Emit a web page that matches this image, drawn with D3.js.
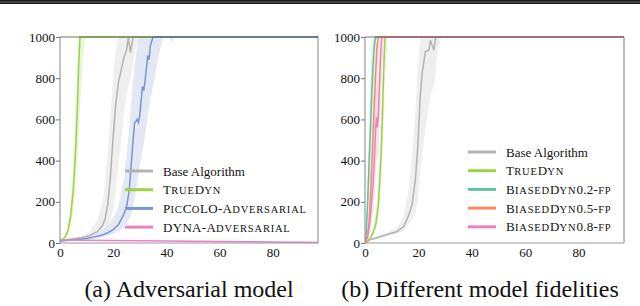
<!DOCTYPE html>
<html><head><meta charset="utf-8">
<script src="https://cdn.jsdelivr.net/npm/d3@7"></script>
<style>body{margin:0;background:#fff}svg{display:block}</style>
</head><body>
<svg id="c" width="640" height="306"></svg>
<script>
// ---------- data ----------
const xTicks = [0, 20, 40, 60, 80];
const yTicks = [0, 200, 400, 600, 800, 1000];

// Panel (a)
const baseA_x  = [0, 4, 8, 11, 14, 16, 17, 18, 19, 20, 21, 22, 23, 24, 25, 25.7, 26.5, 27.5, 28.5, 30, 97];
const baseA_y  = [10, 18, 25, 35, 55, 85, 120, 190, 330, 520, 680, 780, 840, 900, 935, 1000, 925, 1000, 1000, 1000, 1000];
const baseA_hi = [12, 22, 35, 55, 110, 200, 300, 450, 620, 800, 950, 1000, 1000, 1000, 1000, 1000, 1000, 1000, 1000, 1000, 1000];
const baseA_lo = [8, 15, 20, 25, 35, 50, 65, 80, 110, 160, 250, 380, 500, 620, 720, 760, 800, 880, 950, 1000, 1000];

const trueA_x  = [0, 1, 2, 3, 4, 5, 6, 6.5, 7, 7.5, 8, 8.5, 9, 9.5, 97];
const trueA_y  = [10, 18, 30, 60, 130, 260, 480, 650, 850, 1000, 1000, 1000, 1000, 1000, 1000];
const trueA_hi = [12, 22, 40, 85, 190, 380, 680, 880, 1000, 1000, 1000, 1000, 1000, 1000, 1000];
const trueA_lo = [9, 15, 22, 40, 80, 150, 280, 400, 520, 650, 760, 860, 950, 1000, 1000];

const picA_x  = [0, 5, 10, 15, 18, 20, 22, 24, 25, 26, 27, 28, 29, 29.5, 30, 31, 31.5, 32, 33, 33.5, 34, 35, 36, 37, 38, 39, 41, 42, 43, 97];
const picA_y  = [10, 15, 22, 35, 50, 65, 90, 140, 175, 250, 420, 580, 600, 585, 620, 760, 740, 790, 910, 890, 960, 1000, 1000, 1000, 1000, 1000, 1000, 1000, 1000, 1000];
const picA_hi = [12, 20, 30, 55, 85, 120, 180, 310, 420, 560, 720, 860, 950, 1000, 1000, 1000, 1000, 1000, 1000, 1000, 1000, 1000, 1000, 1000, 1000, 1000, 1000, 1000, 1000, 1000];
const picA_lo = [8, 12, 17, 26, 35, 44, 56, 75, 95, 115, 150, 210, 290, 330, 370, 450, 480, 520, 620, 650, 700, 760, 830, 900, 960, 1000, 1000, 975, 1000, 1000];

const dynaA_x = [0, 10, 20, 30, 40, 50, 60, 70, 80, 90, 97];
const dynaA_y = [14, 13, 12, 11, 10, 8, 7, 6, 5, 4, 3];

// Panel (b)
const baseB_x  = [0, 2, 8, 12, 14.5, 16.4, 17.6, 18.9, 19.8, 20.6, 21.4, 22.6, 23.9, 24.5, 25.8, 26.4, 27, 28.5, 97];
const baseB_y  = [0, 16, 40, 56, 80, 136, 184, 312, 472, 696, 824, 928, 936, 984, 936, 992, 1000, 1000, 1000];
const baseB_hi = [2, 20, 50, 75, 130, 260, 420, 650, 850, 1000, 1000, 1000, 1000, 1000, 1000, 1000, 1000, 1000, 1000];
const baseB_lo = [0, 12, 32, 45, 60, 90, 115, 150, 220, 330, 430, 560, 660, 720, 760, 820, 900, 1000, 1000];

const trueB_x  = [0, 1, 2, 3, 4, 5, 5.5, 6, 6.5, 7, 7.5, 8.5, 97];
const trueB_y  = [0, 10, 24, 50, 88, 184, 300, 420, 600, 840, 1000, 1000, 1000];
const trueB_hi = [0, 14, 35, 75, 140, 300, 460, 620, 820, 1000, 1000, 1000, 1000];
const trueB_lo = [0, 7, 16, 34, 60, 120, 190, 280, 420, 620, 800, 1000, 1000];

const b02_x  = [0, 0.5, 1, 1.5, 2, 2.5, 3, 3.5, 4, 4.5, 97];
const b02_y  = [0, 60, 200, 380, 540, 720, 860, 960, 1000, 1000, 1000];
const b02_hi = [0, 110, 320, 560, 760, 920, 1000, 1000, 1000, 1000, 1000];
const b02_lo = [0, 30, 110, 230, 360, 520, 680, 820, 940, 1000, 1000];

const b05_x  = [0, 1, 1.5, 2, 2.5, 3, 3.5, 4, 4.5, 5, 5.5, 97];
const b05_y  = [0, 40, 100, 220, 360, 520, 680, 830, 950, 1000, 1000, 1000];
const b05_hi = [0, 70, 170, 340, 520, 700, 860, 980, 1000, 1000, 1000, 1000];
const b05_lo = [0, 20, 55, 120, 220, 350, 500, 650, 800, 920, 1000, 1000];

const b08_x  = [0, 1, 2, 3, 3.5, 4, 4.3, 4.6, 5, 5.5, 6, 6.3, 7, 97];
const b08_y  = [0, 30, 120, 280, 400, 560, 610, 560, 620, 800, 950, 1000, 1000, 1000];
const b08_hi = [0, 50, 200, 420, 560, 720, 780, 760, 820, 950, 1000, 1000, 1000, 1000];
const b08_lo = [0, 15, 60, 160, 240, 360, 420, 400, 440, 560, 720, 820, 1000, 1000];

const labelsA = ["Base Algorithm", "TrueDyn", "PicCoLO-Adversarial", "DYNA-Adversarial"];
const labelsB = ["Base Algorithm", "TrueDyn", "BiasedDyn0.2-fp", "BiasedDyn0.5-fp", "BiasedDyn0.8-fp"];
const captions = ["(a) Adversarial model", "(b) Different model fidelities"];

// ---------- styling ----------
const FONT = '"Liberation Serif"';
const C = {gray: "#b3b3b3", green: "#9bd447", blue: "#7b95d0", pink: "#e882c4", teal: "#5fc2a3", orange: "#fc8a5e"};
const BAND = {gray: "#ececec", green: "#e4f3cf", blue: "#dde4f2", pink: "#f8dcee", teal: "#d2ede4", orange: "#fee0d3"};

const svg = d3.select("#c");
svg.append("rect").attr("x", 0).attr("y", 0).attr("width", 640).attr("height", 4).attr("fill", "#1a1a1a");
svg.append("rect").attr("x", 0).attr("y", 1.5).attr("width", 640).attr("height", 1).attr("fill", "#666");

function series(x, y, lo, hi) {
  return {pts: x.map((v, i) => ({x: v, y: y[i], lo: lo ? lo[i] : null, hi: hi ? hi[i] : null}))};
}

// small caps: split into runs of lowercase (rendered as smaller capitals) and others
function smallCaps(textSel, str) {
  const runs = [];
  for (const ch of str) {
    const low = ch !== ch.toUpperCase();
    if (runs.length && runs[runs.length - 1].low === low) runs[runs.length - 1].s += ch;
    else runs.push({low, s: ch});
  }
  runs.forEach(r => {
    textSel.append("tspan")
      .style("font-size", r.low ? "10.5px" : "13px")
      .style("letter-spacing", r.low ? "0.8px" : "0.3px")
      .text(r.low ? r.s.toUpperCase() : r.s);
  });
}

function panel(box, list, labels, legendBox, caption, capX) {
  const xs = d3.scaleLinear().domain([0, 97]).range([box.l, box.r]);
  const ys = d3.scaleLinear().domain([0, 1000]).range([box.b, box.t]);
  const g = svg.append("g");
  const clip = "clip" + box.l;
  g.append("clipPath").attr("id", clip).append("rect")
    .attr("x", box.l).attr("y", box.t - 1).attr("width", box.r - box.l).attr("height", box.b - box.t + 2);
  const plot = g.append("g").attr("clip-path", `url(#${clip})`);
  list.forEach(s => {
    if (s.data.pts[0].lo === null) return;
    plot.append("path").datum(s.data.pts)
      .attr("d", d3.area().x(d => xs(d.x)).y0(d => ys(d.lo)).y1(d => ys(d.hi)))
      .attr("fill", BAND[s.c]).attr("opacity", 0.85);
  });
  const fr = g.append("g").attr("stroke", "#999").attr("stroke-width", 1.2).attr("fill", "none");
  fr.append("line").attr("x1", box.l).attr("x2", box.l).attr("y1", box.t).attr("y2", box.b);
  fr.append("line").attr("x1", box.r).attr("x2", box.r).attr("y1", box.t).attr("y2", box.b);
  fr.append("line").attr("x1", box.l).attr("x2", box.r).attr("y1", box.b).attr("y2", box.b);
  list.forEach(s => {
    plot.append("path").datum(s.data.pts)
      .attr("d", d3.line().x(d => xs(d.x)).y(d => ys(d.y)))
      .attr("fill", "none").attr("stroke", C[s.c]).attr("stroke-width", 1.5);
  });
  g.append("line").attr("x1", box.l).attr("x2", box.r).attr("y1", box.t).attr("y2", box.t)
    .attr("stroke", "#333").attr("stroke-width", 1.5).attr("opacity", 0.45);
  const yAx = g.append("g").attr("transform", `translate(${box.l},0)`)
    .call(d3.axisLeft(ys).tickValues(yTicks).tickSize(4).tickPadding(1).tickFormat(d3.format("d")));
  const xAx = g.append("g").attr("transform", `translate(0,${box.b})`)
    .call(d3.axisBottom(xs).tickValues(xTicks).tickSize(0).tickPadding(5).tickFormat(d3.format("d")));
  [yAx, xAx].forEach(a => {
    a.attr("font-family", null).attr("font-size", null);
    a.select(".domain").remove();
    a.selectAll("line").attr("stroke", "#777");
    a.selectAll("text").attr("fill", "#111").style("font-family", FONT).style("font-size", "13px");
  });
  const lg = g.append("g");
  labels.forEach((t, i) => {
    const yy = legendBox.y + i * legendBox.dy;
    lg.append("line").attr("x1", legendBox.x).attr("x2", legendBox.x + 28).attr("y1", yy).attr("y2", yy)
      .attr("stroke", C[list[i].c]).attr("stroke-width", 3);
    const tx = lg.append("text").attr("x", legendBox.x + 38).attr("y", yy + 4.5)
      .style("font-family", FONT).style("font-size", "13px").attr("fill", "#111");
    if (i === 0) tx.text(t); else smallCaps(tx, t);
  });
  svg.append("text").attr("x", capX).attr("y", 297).attr("text-anchor", "middle")
    .style("font-family", FONT).style("font-size", "24px").attr("fill", "#111").text(caption);
}

panel({l: 60, r: 318, t: 37, b: 243}, [
  {data: series(baseA_x, baseA_y, baseA_lo, baseA_hi), c: "gray"},
  {data: series(trueA_x, trueA_y, trueA_lo, trueA_hi), c: "green"},
  {data: series(picA_x, picA_y, picA_lo, picA_hi), c: "blue"},
  {data: series(dynaA_x, dynaA_y), c: "pink"}
], labelsA, {x: 125, y: 171, dy: 18.7}, captions[0], 189);

panel({l: 365, r: 624, t: 37, b: 243}, [
  {data: series(baseB_x, baseB_y, baseB_lo, baseB_hi), c: "gray"},
  {data: series(trueB_x, trueB_y, trueB_lo, trueB_hi), c: "green"},
  {data: series(b02_x, b02_y, b02_lo, b02_hi), c: "teal"},
  {data: series(b05_x, b05_y, b05_lo, b05_hi), c: "orange"},
  {data: series(b08_x, b08_y, b08_lo, b08_hi), c: "pink"}
], labelsB, {x: 468, y: 152, dy: 18.7}, captions[1], 480);
</script>
</body></html>
